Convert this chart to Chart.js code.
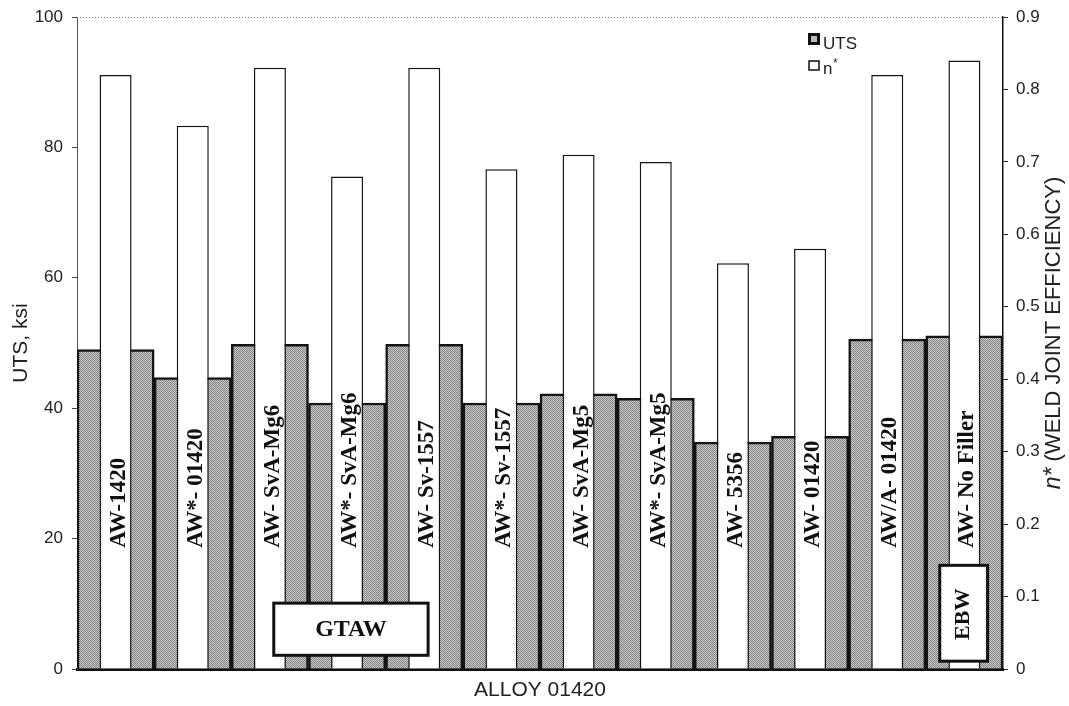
<!DOCTYPE html>
<html>
<head>
<meta charset="utf-8">
<script src="https://cdn.jsdelivr.net/npm/chart.js@4"></script>
<style>
  html, body { margin: 0; padding: 0; background: #fff; }
  #wrap { width: 1069px; height: 706px; }
</style>
</head>
<body>
<div id="wrap"><canvas id="weldChart" width="1069" height="706"></canvas></div>
<script>
  const categories = [
    "AW-1420", "AW*- 01420", "AW- SvA-Mg6", "AW*- SvA-Mg6", "AW- Sv-1557", "AW*- Sv-1557",
    "AW- SvA-Mg5", "AW*- SvA-Mg5", "AW- 5356", "AW- 01420", "AW/A- 01420", "AW- No Filler",
  ];
  const utsKsi = [49, 44.7, 49.8, 40.8, 49.8, 40.8, 42.2, 41.5, 34.8, 35.7, 50.6, 51.1];
  const weldEfficiency = [0.82, 0.75, 0.83, 0.68, 0.83, 0.69, 0.71, 0.70, 0.56, 0.58, 0.82, 0.84];
  const utsTicks = [0, 20, 40, 60, 80, 100];
  const efficiencyTicks = [0, 0.1, 0.2, 0.3, 0.4, 0.5, 0.6, 0.7, 0.8, 0.9];
  // welding process boxes: category span (fractional index) and UTS span
  const processBoxes = [
    { text: "GTAW", from: 2.05, to: 4.05, low: 2.1, high: 10.1, vertical: false, size: 24 },
    { text: "EBW", from: 10.68, to: 11.3, low: 1.2, high: 15.9, vertical: true, size: 22 },
  ];

  // halftone-looking grey fill
  function halftone(dark, light) {
    const c = document.createElement("canvas");
    c.width = 2;
    c.height = 2;
    const g = c.getContext("2d");
    g.fillStyle = light;
    g.fillRect(0, 0, 2, 2);
    g.fillStyle = dark;
    g.fillRect(0, 0, 1, 1);
    g.fillRect(1, 1, 1, 1);
    return g.createPattern(c, "repeat");
  }

  const canvas = document.getElementById("weldChart");
  const greyFill = halftone("#808080", "#cdcdcd");

  const overlay = {
    id: "overlay",
    afterDatasetsDraw(chart) {
      const { ctx, chartArea: area, scales } = chart;
      const x = scales.x;
      const y = scales.y;
      ctx.save();

      // dotted frame on top
      ctx.strokeStyle = "#777";
      ctx.lineWidth = 1;
      ctx.setLineDash([1, 2]);
      ctx.beginPath();
      ctx.moveTo(area.left, area.top + 0.5);
      ctx.lineTo(area.right, area.top + 0.5);
      ctx.stroke();
      ctx.setLineDash([]);

      // alloy names inside the n* bars
      const meta = chart.getDatasetMeta(1);
      ctx.font = "bold 23px 'Liberation Serif'";
      ctx.fillStyle = "#111";
      ctx.textAlign = "left";
      ctx.textBaseline = "alphabetic";
      meta.data.forEach((bar, i) => {
        ctx.save();
        ctx.translate(bar.x + 9, y.getPixelForValue(18.6));
        ctx.rotate(-Math.PI / 2);
        ctx.fillText(categories[i], 0, 0);
        ctx.restore();
      });

      // process boxes
      processBoxes.forEach((box) => {
        const left = x.getPixelForValue(box.from);
        const right = x.getPixelForValue(box.to);
        const top = y.getPixelForValue(box.high);
        const bottom = y.getPixelForValue(box.low);
        ctx.fillStyle = "#fff";
        ctx.fillRect(left, top, right - left, bottom - top);
        ctx.strokeStyle = "#111";
        ctx.lineWidth = 3;
        ctx.strokeRect(left, top, right - left, bottom - top);
        ctx.fillStyle = "#111";
        ctx.font = `bold ${box.size}px 'Liberation Serif'`;
        ctx.textAlign = "center";
        ctx.textBaseline = "middle";
        ctx.save();
        ctx.translate((left + right) / 2, (top + bottom) / 2 + 1);
        if (box.vertical) {
          ctx.rotate(-Math.PI / 2);
        }
        ctx.fillText(box.text, 0, 0);
        ctx.restore();
      });

      // legend
      ctx.fillStyle = "#111";
      ctx.fillRect(808, 33, 12, 12);
      ctx.fillStyle = "#bbb";
      ctx.fillRect(811, 36, 6, 6);
      ctx.strokeStyle = "#111";
      ctx.lineWidth = 1.5;
      ctx.fillStyle = "#fff";
      ctx.fillRect(809, 61, 10, 9);
      ctx.strokeRect(809, 61, 10, 9);
      ctx.fillStyle = "#222";
      ctx.font = "17px 'Liberation Sans'";
      ctx.textAlign = "left";
      ctx.textBaseline = "alphabetic";
      ctx.fillText("UTS", 823, 49);
      ctx.fillText("n", 823, 74);
      ctx.font = "12px 'Liberation Sans'";
      ctx.fillText("*", 833, 67);

      // right axis title, reading upward, italic n*
      ctx.save();
      ctx.translate(1054, (area.top + area.bottom) / 2 - 10);
      ctx.rotate(-Math.PI / 2);
      ctx.fillStyle = "#222";
      ctx.textBaseline = "middle";
      const lead = "n*";
      const rest = " (WELD JOINT EFFICIENCY)";
      ctx.font = "italic 23px 'Liberation Sans'";
      const w1 = ctx.measureText(lead).width;
      ctx.font = "22px 'Liberation Sans'";
      const w2 = ctx.measureText(rest).width;
      const start = -(w1 + w2) / 2;
      ctx.font = "italic 23px 'Liberation Sans'";
      ctx.fillText(lead, start, 0);
      ctx.font = "22px 'Liberation Sans'";
      ctx.fillText(rest, start + w1, 0);
      ctx.restore();

      ctx.restore();
    },
  };

  new Chart(canvas, {
    type: "bar",
    data: {
      labels: categories,
      datasets: [
        {
          label: "UTS",
          data: utsKsi,
          yAxisID: "y",
          backgroundColor: greyFill,
          borderColor: "#141414",
          borderWidth: 2.5,
          barPercentage: 1,
          categoryPercentage: 1,
          grouped: false,
          order: 2,
        },
        {
          label: "n*",
          data: weldEfficiency,
          yAxisID: "y1",
          backgroundColor: "#fff",
          borderColor: "#141414",
          borderWidth: 1.5,
          barPercentage: 0.415,
          categoryPercentage: 1,
          grouped: false,
          order: 1,
        },
      ],
    },
    options: {
      responsive: false,
      animation: false,
      layout: { padding: { top: 17, left: 0, right: 0, bottom: 0 } },
      plugins: {
        legend: { display: false },
        tooltip: { enabled: false },
      },
      scales: {
        x: {
          grid: { display: false },
          border: { color: "#111", width: 3 },
          ticks: { display: false },
          title: {
            display: true,
            text: "ALLOY 01420",
            color: "#222",
            font: { family: "'Liberation Sans'", size: 21 },
            padding: { top: 0, bottom: 3 },
          },
          afterFit(scale) {
            scale.height = 37;
          },
        },
        y: {
          position: "left",
          min: 0,
          max: 100,
          afterBuildTicks(scale) {
            scale.ticks = utsTicks.map((value) => ({ value }));
          },
          grid: { drawOnChartArea: false, tickLength: 5, color: "#444" },
          border: { color: "#555", width: 1 },
          ticks: {
            padding: 9,
            color: "#222",
            font: { family: "'Liberation Sans'", size: 17 },
          },
          title: {
            display: true,
            text: "UTS, ksi",
            color: "#222",
            font: { family: "'Liberation Sans'", size: 21 },
            padding: { top: 9, bottom: 0 },
          },
          afterFit(scale) {
            scale.width = 77;
            scale.paddingTop = 8;
            scale.paddingBottom = 8;
          },
        },
        y1: {
          position: "right",
          min: 0,
          max: 0.9,
          afterBuildTicks(scale) {
            scale.ticks = efficiencyTicks.map((value) => ({ value }));
          },
          grid: { drawOnChartArea: false, tickLength: 5, color: "#222" },
          border: { color: "#111", width: 1.5 },
          ticks: {
            padding: 8,
            color: "#222",
            font: { family: "'Liberation Sans'", size: 17 },
            callback: (value) => (value === 0 ? "0" : value.toFixed(1)),
          },
          afterFit(scale) {
            scale.width = 66;
            scale.paddingTop = 8;
            scale.paddingBottom = 8;
          },
        },
      },
    },
    plugins: [overlay],
  });
</script>
</body>
</html>
